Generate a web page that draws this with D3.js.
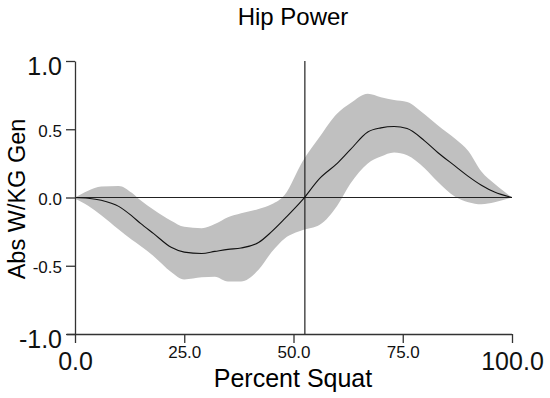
<!DOCTYPE html>
<html>
<head>
  <meta charset="utf-8">
  <script src="https://d3js.org/d3.v7.min.js"></script>
  <style>
    body { margin: 0; background: #fff; }
    svg { display: block; font-family: "Liberation Sans", Arial, sans-serif; }
  </style>
</head>
<body>
  <div id="chart"></div>
  <script>
    // percent of squat cycle
    const percent = [0, 3, 6, 10, 13, 15, 18, 22, 25, 29, 32, 35, 38, 42, 45, 48, 52, 56, 60, 63, 67, 70, 73, 76, 80, 83, 87, 90, 93, 96, 100];
    // mean hip power
    const meanPower = [0, -0.005, -0.02, -0.065, -0.135, -0.19, -0.265, -0.365, -0.4, -0.41, -0.395, -0.38, -0.37, -0.33, -0.25, -0.155, -0.02, 0.14, 0.25, 0.35, 0.48, 0.51, 0.52, 0.505, 0.415, 0.33, 0.23, 0.155, 0.09, 0.04, 0];
    // +/- 1 SD band
    const upperPower = [0, 0.05, 0.08, 0.085, 0.035, -0.02, -0.09, -0.17, -0.215, -0.225, -0.195, -0.145, -0.115, -0.085, -0.05, 0.02, 0.26, 0.445, 0.615, 0.69, 0.76, 0.735, 0.715, 0.7, 0.61, 0.53, 0.43, 0.34, 0.19, 0.1, 0];
    const lowerPower = [-0.01, -0.06, -0.13, -0.235, -0.31, -0.355, -0.43, -0.545, -0.6, -0.585, -0.58, -0.615, -0.615, -0.53, -0.4, -0.3, -0.24, -0.2, -0.06, 0.1, 0.25, 0.3, 0.33, 0.31, 0.215, 0.115, 0.005, -0.035, -0.05, -0.035, 0];

    const xTicks = [0, 25, 50, 75, 100];
    const yTicks = [-1, -0.5, 0, 0.5, 1];
    const xBig = [0, 100];
    const yBig = [-1, 1];
    const markerPercent = 52.6;

    const width = 550, height = 398;
    const margin = { top: 61, right: 38, bottom: 64, left: 75 };

    const data = percent.map((p, i) => ({ p: p, m: meanPower[i], hi: upperPower[i], lo: lowerPower[i] }));
    const fmt = d => d.toFixed(1);

    const svg = d3.select("#chart").append("svg")
      .attr("width", width)
      .attr("height", height);

    const x = d3.scaleLinear()
      .domain([0, 100])
      .range([margin.left, width - margin.right]);

    const y = d3.scaleLinear()
      .domain([-1, 1])
      .range([height - margin.bottom, margin.top]);

    // shaded band
    svg.append("path")
      .datum(data)
      .attr("fill", "#c0c0c0")
      .attr("d", d3.area()
        .x(d => x(d.p))
        .y0(d => y(d.lo))
        .y1(d => y(d.hi))
        .curve(d3.curveMonotoneX));

    // zero line + marker line
    svg.append("line")
      .attr("x1", x(0)).attr("x2", x(100))
      .attr("y1", y(0)).attr("y2", y(0))
      .attr("stroke", "#222").attr("stroke-width", 1.2);
    svg.append("line")
      .attr("x1", x(markerPercent)).attr("x2", x(markerPercent))
      .attr("y1", y(1)).attr("y2", y(-1))
      .attr("stroke", "#222").attr("stroke-width", 1.2);

    // mean curve
    svg.append("path")
      .datum(data)
      .attr("fill", "none")
      .attr("stroke", "#111")
      .attr("stroke-width", 1.1)
      .attr("d", d3.line()
        .x(d => x(d.p))
        .y(d => y(d.m))
        .curve(d3.curveMonotoneX));

    // axes
    const xAxis = svg.append("g")
      .attr("transform", `translate(0,${y(-1)})`)
      .call(d3.axisBottom(x).tickValues(xTicks).tickSize(9).tickSizeOuter(0).tickFormat(fmt));
    xAxis.select(".domain").attr("d", `M${x(0) - 8},0.5H${x(100)}`).attr("stroke", "#333").attr("stroke-width", 1.3);
    xAxis.selectAll(".tick line").attr("stroke", "#333").attr("stroke-width", 1.3);
    xAxis.selectAll(".tick text")
      .attr("fill", "#111")
      .attr("font-family", "Liberation Sans, Arial, sans-serif")
      .attr("dy", null)
      .attr("y", d => xBig.includes(d) ? 36 : 24)
      .attr("font-size", d => xBig.includes(d) ? 25 : 17);

    const yAxis = svg.append("g")
      .attr("transform", `translate(${x(0)},0)`)
      .call(d3.axisLeft(y).tickValues(yTicks).tickSize(9).tickSizeOuter(0).tickFormat(fmt));
    yAxis.select(".domain").attr("stroke", "#333").attr("stroke-width", 1.3);
    yAxis.selectAll(".tick line").attr("stroke", "#333").attr("stroke-width", 1.3);
    yAxis.selectAll(".tick text")
      .attr("fill", "#111")
      .attr("font-family", "Liberation Sans, Arial, sans-serif")
      .attr("x", -13)
      .attr("dy", d => yBig.includes(d) ? "0.55em" : "0.4em")
      .attr("font-size", d => yBig.includes(d) ? 25 : 17);

    // titles
    svg.append("text")
      .attr("x", 293).attr("y", 25)
      .attr("text-anchor", "middle")
      .attr("font-size", 24)
      .text("Hip Power");

    svg.append("text")
      .attr("x", 293).attr("y", 387)
      .attr("text-anchor", "middle")
      .attr("font-size", 25)
      .text("Percent Squat");

    svg.append("text")
      .attr("transform", "translate(25,199) rotate(-90)")
      .attr("text-anchor", "middle")
      .attr("font-size", 23.5)
      .text("Abs W/KG Gen");
  </script>
</body>
</html>
